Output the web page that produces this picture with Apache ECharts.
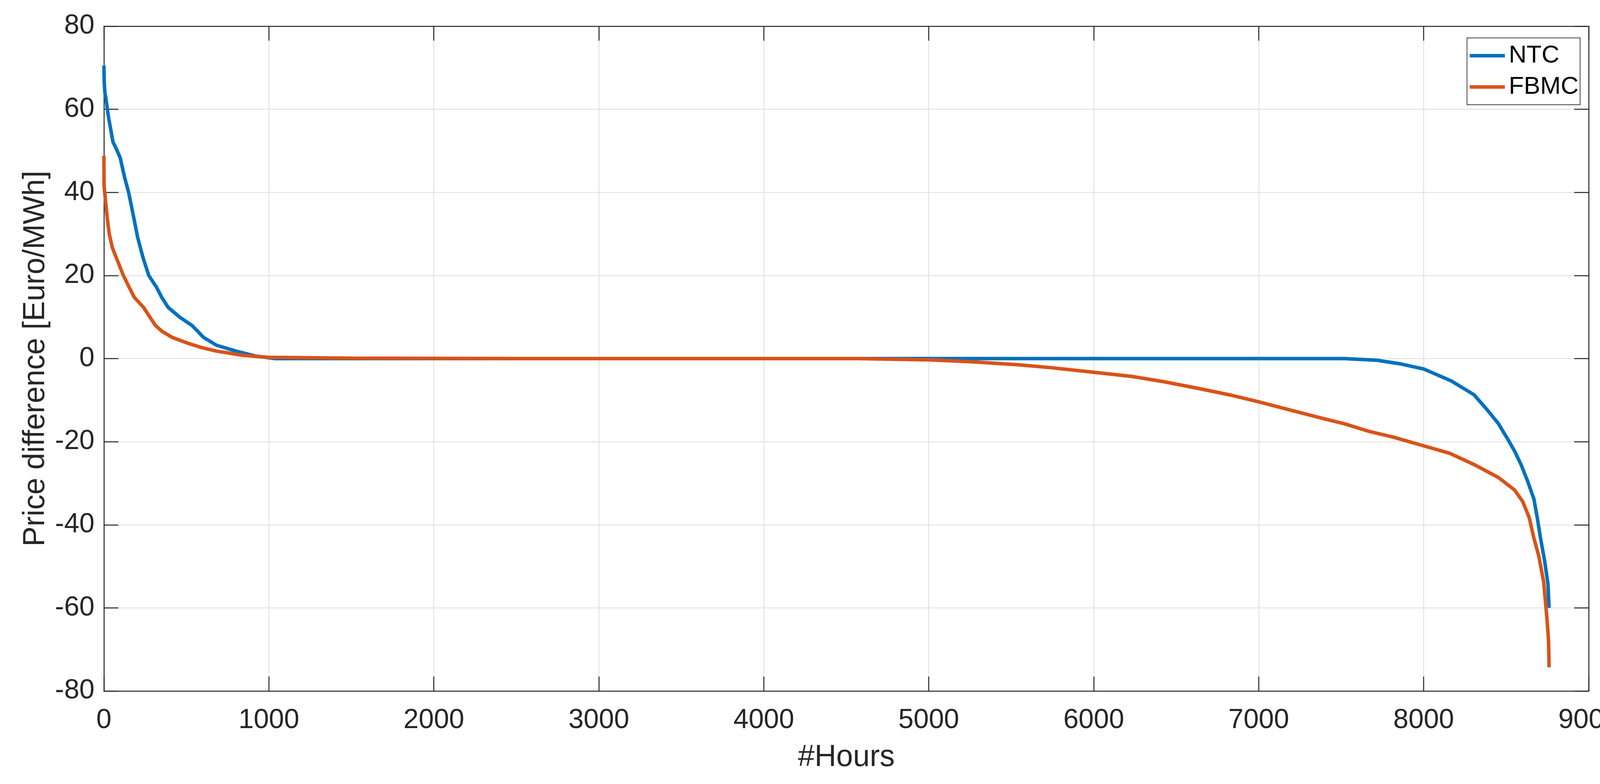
<!DOCTYPE html>
<html>
<head>
<meta charset="utf-8">
<script src="https://cdn.jsdelivr.net/npm/echarts@6/dist/echarts.min.js"></script>
<style>
html,body{margin:0;padding:0;background:#fff;}
#chart{width:4192px;height:2006px;}
</style>
</head>
<body>
<div id="chart"></div>
<script>
const seriesNames = ['NTC', 'FBMC'];
const xTicks = [0, 1000, 2000, 3000, 4000, 5000, 6000, 7000, 8000, 9000];
const yTicks = [-80, -60, -40, -20, 0, 20, 40, 60, 80];

const ntcHours = [0, 2, 6, 12, 21, 29, 42, 55, 75, 99, 126, 150, 181, 205, 237, 272, 320, 351, 390, 462, 533, 570, 604, 683, 801, 920, 1038, 2000, 3000, 4000, 5000, 6000, 7000, 7520, 7716, 7863, 8000, 8070, 8168, 8305, 8384, 8452, 8511, 8550, 8590, 8629, 8668, 8688, 8708, 8733, 8753, 8760];
const ntcValues = [70.5, 66.5, 64, 62.7, 60, 57.9, 55, 52.1, 50.5, 48.3, 43.5, 40, 33.9, 29.1, 24.3, 20, 17.1, 14.7, 12.3, 9.9, 8.0, 6.5, 5.1, 3.2, 1.8, 0.6, 0, 0, 0, 0, 0, 0, 0, 0, -0.4, -1.3, -2.5, -3.7, -5.4, -8.7, -12.3, -15.6, -19.5, -22.2, -25.5, -29.4, -33.8, -38.2, -43.2, -48.7, -54.2, -60];

const fbmcHours = [0, 1, 8, 20, 32, 51, 75, 99, 118, 154, 185, 241, 280, 312, 351, 414, 509, 588, 683, 840, 998, 1500, 2500, 3500, 4570, 5000, 5254, 5548, 5744, 6000, 6233, 6429, 6624, 6820, 7000, 7211, 7407, 7520, 7667, 7815, 8000, 8158, 8305, 8452, 8550, 8600, 8639, 8668, 8698, 8727, 8747, 8757, 8760];
const fbmcValues = [48.8, 41.6, 38.7, 33.9, 30.1, 26.7, 24.3, 21.9, 20, 17.1, 14.7, 12.3, 9.9, 8.0, 6.6, 5.1, 3.7, 2.7, 1.8, 0.8, 0.3, 0.1, 0, 0, 0, -0.3, -0.75, -1.5, -2.2, -3.3, -4.3, -5.6, -7.1, -8.7, -10.4, -12.6, -14.6, -15.7, -17.5, -18.9, -21.0, -22.8, -25.5, -28.6, -31.6, -34.4, -38.2, -43.2, -47.6, -53.7, -62.5, -68.0, -74.3];

const colors = ['#0072BD', '#D95319'];
const FONT = 'Liberation Sans, Arial, Helvetica, sans-serif';
const axisColor = '#262626';

function pairs(xs, ys) { return xs.map((x, i) => [x, ys[i]]); }

const chart = echarts.init(document.getElementById('chart'), null, {renderer: 'canvas'});

const xMin = xTicks[0], xMax = xTicks[xTicks.length - 1], xInt = xTicks[1] - xTicks[0];
const yMin = yTicks[0], yMax = yTicks[yTicks.length - 1], yInt = yTicks[1] - yTicks[0];

const baseAxisLine = {show: true, onZero: false, lineStyle: {color: axisColor, width: 2.5}};
const baseTick = {show: true, inside: true, length: 37, lineStyle: {color: axisColor, width: 2.5}};
const plain = v => String(v);

chart.setOption({
  backgroundColor: '#ffffff',
  animation: false,
  grid: {left: 266, right: 125, top: 67, bottom: 238, containLabel: false},
  legend: {
    data: seriesNames,
    orient: 'vertical',
    right: 147,
    top: 97,
    icon: 'rect',
    itemWidth: 90,
    itemHeight: 9,
    itemGap: 17,
    padding: [14, 4, 14, 7],
    borderColor: '#404040',
    borderWidth: 2,
    backgroundColor: '#ffffff',
    textStyle: {fontFamily: FONT, fontSize: 63, color: '#000000', lineHeight: 63, padding: [0, 0, 0, 5]}
  },
  xAxis: [{
    type: 'value', min: xMin, max: xMax, interval: xInt, position: 'bottom',
    name: '#Hours', nameLocation: 'middle', nameGap: 132,
    nameTextStyle: {fontFamily: FONT, fontSize: 77, color: axisColor},
    axisLine: baseAxisLine, axisTick: baseTick,
    axisLabel: {fontFamily: FONT, fontSize: 70, color: axisColor, margin: 41, formatter: plain},
    splitLine: {show: true, lineStyle: {color: '#e3e3e3', width: 2.5}}
  }, {
    type: 'value', min: xMin, max: xMax, interval: xInt, position: 'top',
    axisLine: baseAxisLine, axisTick: baseTick,
    axisLabel: {show: false}, splitLine: {show: false}
  }],
  yAxis: [{
    type: 'value', min: yMin, max: yMax, interval: yInt, position: 'left',
    name: 'Price difference [Euro/MWh]', nameLocation: 'middle', nameGap: 136, nameRotate: 90,
    nameTextStyle: {fontFamily: FONT, fontSize: 77, color: axisColor},
    axisLine: baseAxisLine, axisTick: baseTick,
    axisLabel: {fontFamily: FONT, fontSize: 70, color: axisColor, margin: 24, formatter: plain},
    splitLine: {show: true, lineStyle: {color: '#e3e3e3', width: 2.5}}
  }, {
    type: 'value', min: yMin, max: yMax, interval: yInt, position: 'right',
    axisLine: baseAxisLine, axisTick: baseTick,
    axisLabel: {show: false}, splitLine: {show: false}
  }],
  series: [{
    name: seriesNames[0], type: 'line', xAxisIndex: 0, yAxisIndex: 0,
    data: pairs(ntcHours, ntcValues), showSymbol: false, symbol: 'none',
    lineStyle: {color: colors[0], width: 9}, itemStyle: {color: colors[0]}
  }, {
    name: seriesNames[1], type: 'line', xAxisIndex: 0, yAxisIndex: 0,
    data: pairs(fbmcHours, fbmcValues), showSymbol: false, symbol: 'none',
    lineStyle: {color: colors[1], width: 9}, itemStyle: {color: colors[1]}
  }]
});
</script>
</body>
</html>
